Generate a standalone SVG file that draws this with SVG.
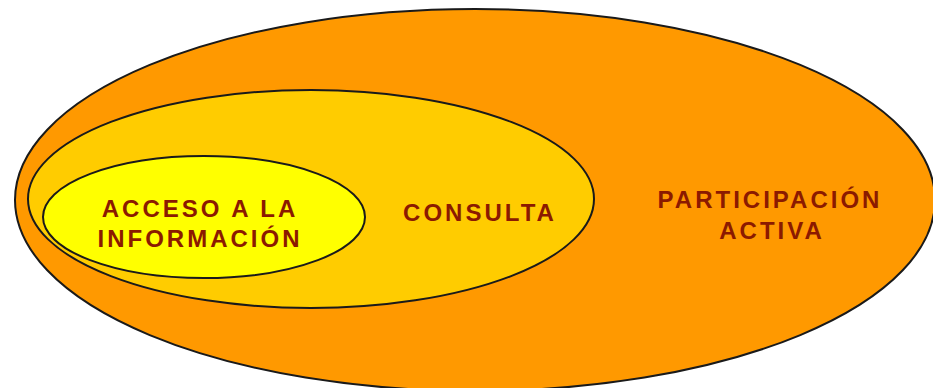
<svg xmlns="http://www.w3.org/2000/svg" width="933" height="388" viewBox="0 0 933 388">
<style>
.ell{stroke:#1a1a1a;stroke-width:2}
.lbl{font-family:"Liberation Sans",Arial,sans-serif;font-weight:bold;font-size:24px;fill:#8B1A00;text-anchor:middle;letter-spacing:3px}
</style>
<rect width="933" height="388" fill="#ffffff"/>
<g id="participacion">
<ellipse class="ell" cx="475" cy="200" rx="460" ry="191" fill="#FF9900"/>
<text class="lbl" x="770" y="208">PARTICIPACIÓN</text>
<text class="lbl" x="772" y="239">ACTIVA</text>
</g>
<g id="consulta">
<ellipse class="ell" cx="311" cy="199" rx="283" ry="109" fill="#FFCC00"/>
<text class="lbl" x="480" y="221">CONSULTA</text>
</g>
<g id="acceso">
<ellipse class="ell" cx="204" cy="217" rx="161" ry="61" fill="#FFFF00"/>
<text class="lbl" x="200" y="217">ACCESO A LA</text>
<text class="lbl" x="200" y="247">INFORMACIÓN</text>
</g>
<g id="connectors"/>
</svg>
